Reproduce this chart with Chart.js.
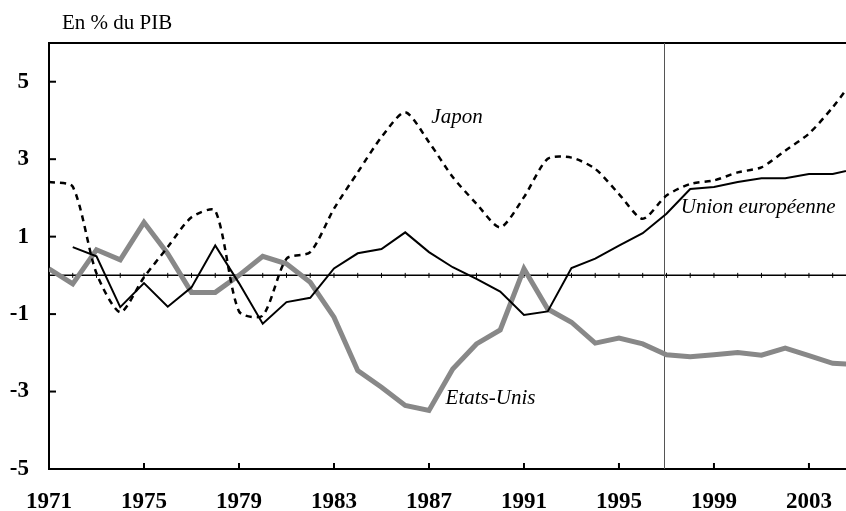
<!DOCTYPE html>
<html>
<head>
<meta charset="utf-8">
<script src="https://cdn.jsdelivr.net/npm/chart.js@4.4.1/dist/chart.umd.min.js"></script>
<style>
  html, body { margin: 0; padding: 0; background: #fff; }
</style>
</head>
<body>
<canvas id="chart" width="846" height="511"></canvas>
<script>
// Data (% of GDP)
const years = [1971, 1972, 1973, 1974, 1975, 1976, 1977, 1978, 1979, 1980,
  1981, 1982, 1983, 1984, 1985, 1986, 1987, 1988, 1989, 1990,
  1991, 1992, 1993, 1994, 1995, 1996, 1997, 1998, 1999, 2000,
  2001, 2002, 2003, 2004, 2005];
const japon = [2.41, 2.29, 0.05, -0.95, -0.05, 0.73, 1.50, 1.67, -0.93, -1.04,
  0.43, 0.60, 1.72, 2.66, 3.57, 4.21, 3.44, 2.54, 1.85, 1.24,
  2.02, 3.01, 3.04, 2.75, 2.10, 1.46, 2.06, 2.36, 2.45, 2.66,
  2.79, 3.22, 3.66, 4.34, 5.15];
const unionEuropeenne = [null, 0.73, 0.49, -0.82, -0.20, -0.81, -0.31, 0.77, -0.20, -1.25,
  -0.69, -0.58, 0.18, 0.57, 0.68, 1.11, 0.60, 0.21, -0.09, -0.42,
  -1.02, -0.93, 0.19, 0.43, 0.77, 1.09, 1.59, 2.23, 2.28, 2.41,
  2.51, 2.51, 2.62, 2.62, 2.75];
const etatsUnis = [0.17, -0.22, 0.66, 0.40, 1.37, 0.56, -0.44, -0.44, 0.00, 0.49,
  0.30, -0.18, -1.08, -2.46, -2.89, -3.36, -3.49, -2.42, -1.77, -1.41,
  0.17, -0.87, -1.21, -1.75, -1.62, -1.77, -2.05, -2.10, -2.05, -1.99,
  -2.06, -1.88, -2.07, -2.27, -2.30];
const xTicks = [1971, 1975, 1979, 1983, 1987, 1991, 1995, 1999, 2003];
const yTicks = [-5, -3, -1, 1, 3, 5];
const markerYear = 1997;

// series names placed next to the lines (data coordinates)
const seriesLabels = [
  { text: "Japon", x: 1987.1, y: 4.08 },
  { text: "Union européenne", x: 1997.6, y: 1.75 },
  { text: "Etats-Unis", x: 1987.7, y: -3.18 }
];

const serif = '"Liberation Serif", "Times New Roman", serif';
const toPoints = arr => years.map((yr, i) => ({ x: yr, y: arr[i] }));

function seg(ctx, x1, y1, x2, y2) {
  ctx.beginPath();
  ctx.moveTo(x1, y1);
  ctx.lineTo(x2, y2);
  ctx.stroke();
}

// frame, ticks, zero line, 1997 marker and text
const decor = {
  id: "decor",
  beforeDatasetsDraw(chart) {
    const { ctx, chartArea: a, scales: { x, y } } = chart;
    ctx.save();
    ctx.strokeStyle = "#000";

    ctx.lineWidth = 2;
    seg(ctx, a.left, a.top, a.right, a.top);

    const y0 = y.getPixelForValue(0);
    ctx.lineWidth = 1.5;
    seg(ctx, a.left, y0, a.right, y0);
    ctx.lineWidth = 1;
    years.forEach(yr => {
      const px = x.getPixelForValue(yr);
      seg(ctx, px, y0 - 2.5, px, y0 + 2.5);
    });

    ctx.lineWidth = 2;
    xTicks.forEach(v => {
      const px = x.getPixelForValue(v);
      seg(ctx, px, a.bottom, px, a.bottom - 6);
    });
    yTicks.forEach(v => {
      const py = y.getPixelForValue(v);
      seg(ctx, a.left, py, a.left + 7, py);
    });

    ctx.strokeStyle = "#555";
    ctx.lineWidth = 1;
    const pm = Math.round(x.getPixelForValue(markerYear)) - 1.5;
    seg(ctx, pm, a.top, pm, a.bottom);
    ctx.restore();
  },
  afterDraw(chart) {
    const { ctx, scales: { x, y } } = chart;
    ctx.save();
    ctx.fillStyle = "#000";
    ctx.textBaseline = "middle";
    ctx.textAlign = "left";
    ctx.font = "21px " + serif;
    ctx.fillText("En % du PIB", 62, 23);
    ctx.font = "italic 21px " + serif;
    seriesLabels.forEach(l => {
      ctx.fillText(l.text, x.getPixelForValue(l.x), y.getPixelForValue(l.y));
    });
    ctx.restore();
  }
};

const ctx = document.getElementById("chart").getContext("2d");

new Chart(ctx, {
  type: "line",
  data: {
    datasets: [
      {
        label: "Japon",
        data: toPoints(japon),
        borderColor: "#000",
        borderWidth: 2.5,
        borderDash: [6, 5],
        pointRadius: 0,
        tension: 0.25,
        order: 1
      },
      {
        label: "Union européenne",
        data: toPoints(unionEuropeenne),
        borderColor: "#000",
        borderWidth: 2,
        pointRadius: 0,
        tension: 0,
        order: 2
      },
      {
        label: "Etats-Unis",
        data: toPoints(etatsUnis),
        borderColor: "#888",
        borderWidth: 5,
        pointRadius: 0,
        tension: 0,
        order: 3
      }
    ]
  },
  options: {
    responsive: false,
    animation: false,
    layout: { autoPadding: false, padding: { top: 43, right: 0, left: 0, bottom: 0 } },
    plugins: { legend: { display: false }, tooltip: { enabled: false } },
    scales: {
      x: {
        type: "linear",
        min: 1971,
        max: 2004.56,
        afterBuildTicks: s => { s.ticks = xTicks.map(v => ({ value: v })); },
        afterFit: s => { s.height = 42; s.paddingLeft = 0; s.paddingRight = 0; },
        grid: { display: false, drawTicks: false },
        border: { display: true, color: "#000", width: 2 },
        ticks: {
          autoSkip: false,
          maxRotation: 0,
          padding: 19,
          color: "#000",
          font: { family: serif, size: 23, weight: "bold" },
          callback: v => String(v)
        }
      },
      y: {
        min: -5,
        max: 6,
        afterBuildTicks: s => { s.ticks = yTicks.map(v => ({ value: v })); },
        afterFit: s => { s.width = 49; s.paddingTop = 0; s.paddingBottom = 0; },
        grid: { display: false, drawTicks: false },
        border: { display: true, color: "#000", width: 2 },
        ticks: {
          padding: 20,
          color: "#000",
          font: { family: serif, size: 23, weight: "bold" },
          callback: v => String(v)
        }
      }
    }
  },
  plugins: [decor]
});
</script>
</body>
</html>
